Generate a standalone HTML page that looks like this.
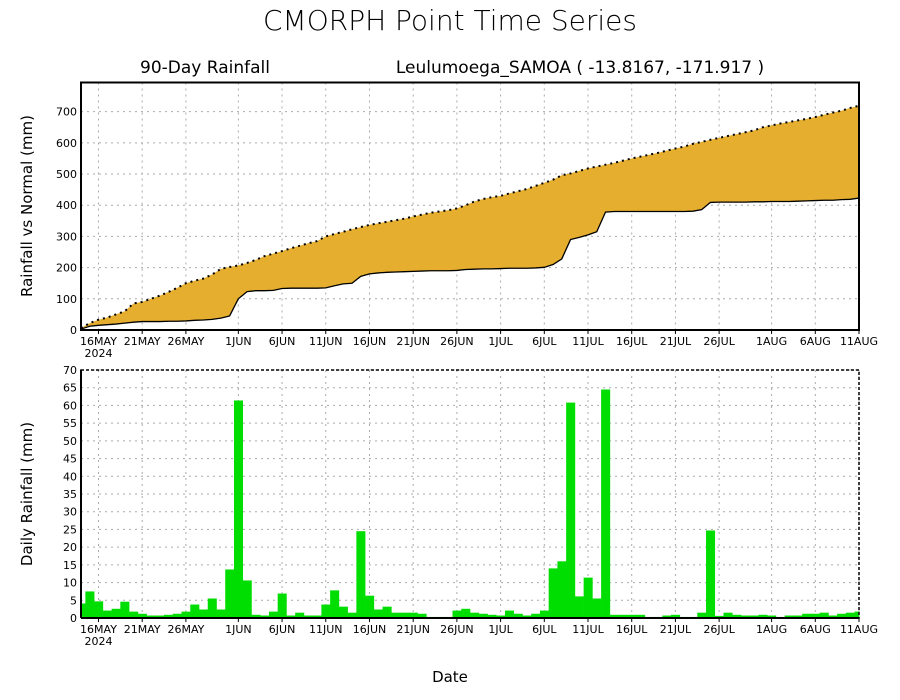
<!DOCTYPE html>
<html><head><meta charset="utf-8"><style>
body{margin:0;background:#fff}
svg{display:block;font-family:"DejaVu Sans","Liberation Sans",sans-serif}
</style></head><body>
<svg id="c" width="900" height="700" viewBox="0 0 900 700">
<text x="450" y="30" font-size="28" text-anchor="middle" font-weight="300">CMORPH Point Time Series</text>
<text x="205" y="73" font-size="17" text-anchor="middle">90-Day Rainfall</text>
<text x="580" y="73" font-size="17" text-anchor="middle">Leulumoega_SAMOA ( -13.8167, -171.917 )</text>
<text transform="translate(32,206) rotate(-90)" font-size="15" text-anchor="middle">Rainfall vs Normal (mm)</text>
<text transform="translate(32,494) rotate(-90)" font-size="15" text-anchor="middle">Daily Rainfall (mm)</text>
<text x="450" y="682" font-size="15" text-anchor="middle">Date</text>
<g id="top"></g><g id="bot"></g>
</svg>
<script>
const daily=[4.1,7.5,4.7,2.1,2.6,4.6,1.8,1.2,0.7,0.7,0.9,1.2,1.8,3.8,2.4,5.5,2.4,13.7,61.4,10.6,
0.9,0.7,1.8,6.9,0.7,1.5,0.7,0.7,3.8,7.8,3.2,1.5,24.5,6.3,2.4,3.2,1.5,1.5,1.5,1.2,
0.3,0.3,0.3,2.1,2.6,1.5,1.2,0.9,0.7,2.1,1.2,0.7,1.2,2.1,14,16,60.8,6.1,11.4,5.5,
64.5,0.9,0.9,0.9,0.9,0.3,0.3,0.7,0.9,0.3,0.3,1.5,24.7,0.6,1.5,0.9,0.7,0.7,0.9,0.7,
0.3,0.7,0.7,1.2,1.2,1.5,0.7,1.2,1.5,1.8];
const normalCum=[6,22,33,40,50,60,85,90,100,110,122,135,150,158,165,178,196,202,207,215,
225,237,245,253,262,270,278,285,300,308,315,323,330,337,342,347,352,357,364,370,
376,380,384,390,400,412,420,426,430,438,445,452,462,472,482,496,502,510,518,524,
530,536,543,550,556,562,568,575,582,588,597,603,610,616,622,628,634,640,650,656,
662,667,672,677,683,690,697,703,712,719];
const actualCum=[3,12,15,17,19,22,25,27,27,27,28,28,29,31,32,34,38,45,100,123,
126,126,127,133,134,134,134,134,135,142,148,150,172,180,183,185,186,187,188,189,
190,190,190,191,194,195,196,196,197,198,198,198,199,201,210,228,290,297,305,315,
378,380,380,380,380,380,380,380,380,380,381,386,409,410,410,410,410,411,411,412,
412,412,413,414,415,416,416,418,419,423];
const dateLabels=["16MAY","21MAY","26MAY","1JUN","6JUN","11JUN","16JUN","21JUN","26JUN","1JUL","6JUL","11JUL","16JUL","21JUL","26JUL","1AUG","6AUG","11AUG"];
const dateDays=[2,7,12,18,23,28,33,38,43,48,53,58,63,68,73,79,84,89];
const topTicks=[0,100,200,300,400,500,600,700];
const botTicks=[0,5,10,15,20,25,30,35,40,45,50,55,60,65,70];

const NS="http://www.w3.org/2000/svg";
const X0=81,X1=859,N=daily.length;
const xd=d=>X0+d*(X1-X0)/(N-1);
const yTop=v=>330-v*0.3119;
const yBot=v=>618-v*(248/70);
function mk(p,t,a){const e=document.createElementNS(NS,t);for(const k in a)e.setAttribute(k,a[k]);p.appendChild(e);return e;}

function axes(g,yf,ticks,top,bottom,nm){
  ticks.forEach(t=>{
    const l=mk(g,'line',{x1:X0,x2:X1,y1:yf(t),y2:yf(t),stroke:'#aaa','stroke-dasharray':'2,4'});
    
    
    const tx=mk(g,'text',{x:X0-4,y:yf(t)+4,'font-size':11,'text-anchor':'end'});
    tx.textContent=t;
    
    
  });
  dateDays.forEach((d,i)=>{
    const l=mk(g,'line',{x1:xd(d),x2:xd(d),y1:top,y2:bottom,stroke:'#aaa','stroke-dasharray':'2,4'});
    
    
    mk(g,'line',{x1:xd(d),x2:xd(d),y1:bottom,y2:bottom+4,stroke:'#000'});
    const tx=mk(g,'text',{x:xd(d),y:bottom+15,'font-size':11,'text-anchor':'middle'});
    tx.textContent=dateLabels[i];
    
    
  });
  const yr=mk(g,'text',{x:xd(dateDays[0]),y:bottom+27,'font-size':11,'text-anchor':'middle'});
  yr.textContent='2024';
  
  
}

// top chart
const gt=document.getElementById('top');
axes(gt,yTop,topTicks,82.5,330,'top');
let pts=normalCum.map((v,d)=>xd(d)+','+yTop(v));
for(let d=N-1;d>=0;d--)pts.push(xd(d)+','+yTop(actualCum[d]));
const area=mk(gt,'polygon',{points:pts.join(' '),fill:'#e5ae2f'});


const nl=mk(gt,'polyline',{points:normalCum.map((v,d)=>xd(d)+','+yTop(v)).join(' '),fill:'none',stroke:'#000','stroke-width':2,'stroke-dasharray':'2,4'});


const al=mk(gt,'polyline',{points:actualCum.map((v,d)=>xd(d)+','+yTop(v)).join(' '),fill:'none',stroke:'#000','stroke-width':1.3});


const f1=mk(gt,'rect',{x:X0,y:82.5,width:X1-X0,height:330-82.5,fill:'none',stroke:'#000','stroke-width':2});



// bottom chart
const gb=document.getElementById('bot');
axes(gb,yBot,botTicks,370,618,'bottom');
const bw=(X1-X0)/(N-1);
daily.forEach((v,d)=>{
  let x=xd(d)-bw/2,w=bw;
  if(x<X0){w-=X0-x;x=X0;}
  if(x+w>X1)w=X1-x;
  const r=mk(gb,'rect',{x:x,y:yBot(v),width:w+0.3,height:618-yBot(v),fill:'#00dd00'});
  
  
});
const f2=mk(gb,'rect',{x:X0,y:370,width:X1-X0,height:248,fill:'none',stroke:'#000','stroke-width':1.5,'stroke-dasharray':'3,2'});


mk(gb,'line',{x1:X0,x2:X0,y1:370,y2:618,stroke:'#000','stroke-width':2});
mk(gb,'line',{x1:X0,x2:X1,y1:618,y2:618,stroke:'#000','stroke-width':2});
</script>
</body></html>
